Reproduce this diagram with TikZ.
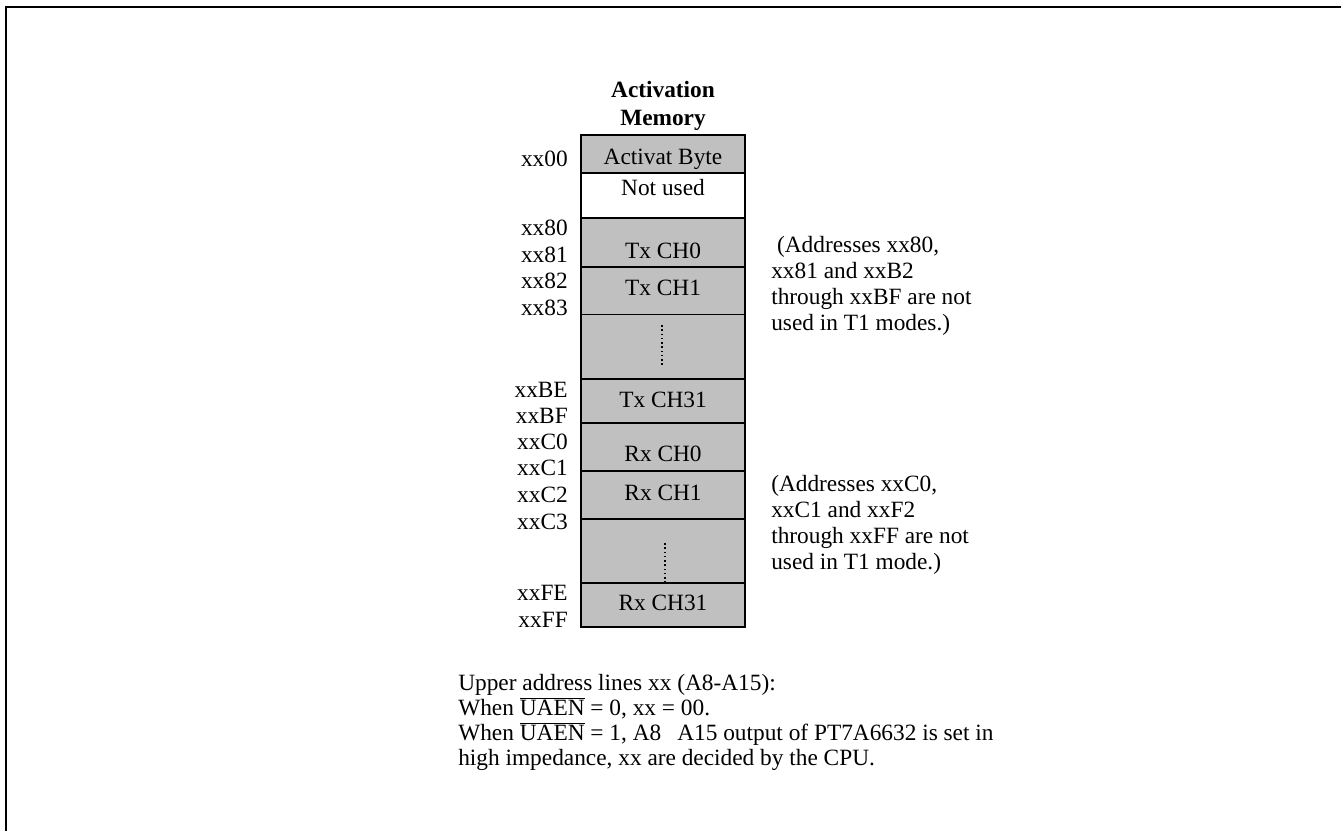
\documentclass[tikz,border=0pt]{standalone}
\usepackage{fontspec}
\setmainfont{Liberation Serif}
\usetikzlibrary{positioning}
\definecolor{cellgray}{RGB}{192,192,192}
\newcommand{\ovbar}[1]{$\overline{\hbox{#1}}$}

\begin{document}
\begin{tikzpicture}[
    x=0.75pt, y=-0.75pt,
    every node/.style={font=\fontsize{17.5}{19.5}\selectfont},
    cell/.style={rectangle, draw, line width=1pt, fill=cellgray, minimum width=123pt, inner sep=0pt, outer sep=0pt},
    addr/.style={anchor=east, inner sep=0pt},
    note/.style={anchor=west, align=left, inner sep=0pt},
    dots/.style={dotted, line width=1.2pt}
]
    \useasboundingbox (0,0) rectangle (1341,831);
    % page frame (top and left edges only)
    \draw[line width=1.5pt] (1341,7) -- (6,7) -- (6,831);

    % title
    \node[align=center, font=\fontsize{17.5}{21}\selectfont\bfseries] (title) at (663,106) {Activation\\Memory};

    % memory cells
    \node[cell, minimum height=28.5pt] (actbyte) at (663,154) {};
    \node[cell, fill=white, minimum height=33.75pt] (notused) at (663,195.5) {};
    \node[cell, minimum height=36.75pt] (txch0) at (663,242.5) {};
    \node[cell, minimum height=35.6pt] (txch1) at (663,290.75) {};
    \node[cell, minimum height=48.4pt] (txdots) at (663,346.75) {};
    \node[cell, minimum height=33pt] (txch31) at (663,401) {};
    \node[cell, minimum height=36pt] (rxch0) at (663,447) {};
    \node[cell, minimum height=36pt] (rxch1) at (663,495) {};
    \node[cell, minimum height=48pt] (rxdots) at (663,551) {};
    \node[cell, minimum height=33pt] (rxch31) at (663,605) {};
    \draw[line width=2pt] (actbyte.north west) rectangle (rxch31.south east);

    % cell texts
    \node (t-actbyte) at (663,159) {Activat Byte};
    \node (t-notused) at (663,188) {Not used};
    \node (t-txch0) at (663,251) {Tx CH0};
    \node (t-txch1) at (663,288) {Tx CH1};
    \node (t-txch31) at (663,400) {Tx CH31};
    \node (t-rxch0) at (663,454) {Rx CH0};
    \node (t-rxch1) at (663,493) {Rx CH1};
    \node (t-rxch31) at (663,603) {Rx CH31};
    \draw[dots] (662,325) -- (662,367);
    \draw[dots] (665,543) -- (665,585);

    % addresses
    \node[addr] (a00) at (568,159) {xx00};
    \node[addr] (a80) at (568,228) {xx80};
    \node[addr] (a81) at (568,255) {xx81};
    \node[addr] (a82) at (568,281) {xx82};
    \node[addr] (a83) at (568,308) {xx83};
    \node[addr] (aBE) at (568,390) {xxBE};
    \node[addr] (aBF) at (568,416) {xxBF};
    \node[addr] (aC0) at (568,442) {xxC0};
    \node[addr] (aC1) at (568,468) {xxC1};
    \node[addr] (aC2) at (568,495) {xxC2};
    \node[addr] (aC3) at (568,522) {xxC3};
    \node[addr] (aFE) at (568,593) {xxFE};
    \node[addr] (aFF) at (568,620) {xxFF};

    % notes
    \node[note] (note-tx) at (771,286) {\ (Addresses xx80,\\xx81 and xxB2\\through xxBF are not\\used in T1 modes.)};
    \node[note] (note-rx) at (771,525) {(Addresses xxC0,\\xxC1 and xxF2\\through xxFF are not\\used in T1 mode.)};
    \node[note, font=\fontsize{17.5}{18.75}\selectfont] (note-uaen) at (458,722) {Upper address lines xx (A8-A15):\\When \ovbar{UAEN} = 0, xx = 00.\\When \ovbar{UAEN} = 1, A8\hspace{12pt}A15 output of PT7A6632 is set in\\high impedance, xx are decided by the CPU.};
\end{tikzpicture}
\end{document}
